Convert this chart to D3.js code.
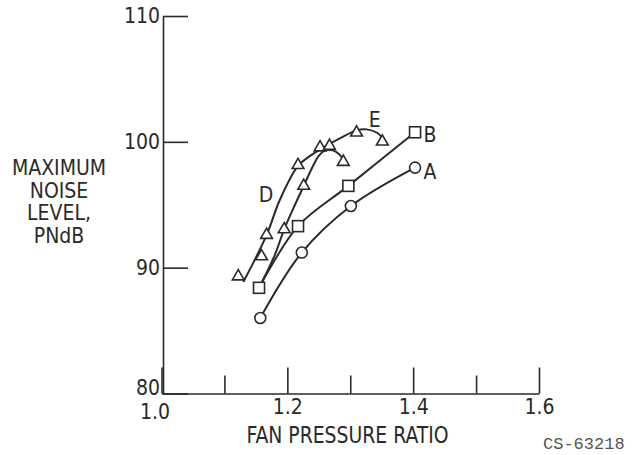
<!DOCTYPE html>
<html>
<head>
<meta charset="utf-8">
<script src="https://cdn.jsdelivr.net/npm/d3@7"></script>
<style>
  body { margin: 0; background: #fff; }
  svg text { fill: #2a2a2a; }
</style>
</head>
<body>
<div id="chart"></div>
<script>
// measured points (fan pressure ratio, PNdB)
const circlesA = [[1.157, 86.0], [1.223, 91.2], [1.301, 94.9], [1.403, 97.95]];
const squaresB = [[1.155, 88.4], [1.217, 93.3], [1.297, 96.5], [1.403, 100.76]];
const trianglesDE = [
    [1.122, 89.3], [1.159, 90.9], [1.167, 92.6], [1.195, 93.05],
    [1.217, 98.15], [1.226, 96.5], [1.252, 99.55], [1.267, 99.67],
    [1.289, 98.4], [1.310, 100.73], [1.351, 100.02]
];

// faired curves
const curveD = [
    [1.130, 88.86], [1.167, 92.58], [1.188, 95.38],
    [1.217, 98.08], [1.236, 98.88], [1.255, 99.48], [1.284, 100.29],
    [1.310, 100.91], [1.326, 100.99], [1.344, 100.68], [1.351, 100.27]
];
const curveE = [
    [1.160, 88.9], [1.180, 91.0], [1.195, 93.05], [1.212, 94.98],
    [1.226, 96.49], [1.240, 98.0], [1.250, 98.88], [1.260, 99.32],
    [1.272, 99.32], [1.282, 99.04], [1.289, 98.6]
];

const xMajor = [1.0, 1.2, 1.4, 1.6];
const xMinor = [1.1, 1.3, 1.5];
const yTicks = [80, 90, 100, 110];

const curveLabels = [
    { text: 'A', x: 1.4266, y: 97.65 },
    { text: 'B', x: 1.4266, y: 100.55 },
    { text: 'D', x: 1.166, y: 95.78 },
    { text: 'E', x: 1.339, y: 101.74 }
];

const yTitle = ['MAXIMUM', 'NOISE', 'LEVEL,', 'PNdB'];

const svgWidth = 636;
const svgHeight = 455;
const ink = '#2a2a2a';
const font = '"DejaVu Sans Condensed", "DejaVu Sans", sans-serif';

const svg = d3.select('#chart')
    .append('svg')
    .attr('width', svgWidth)
    .attr('height', svgHeight)
    .style('font-family', font);

const xScale = d3.scaleLinear()
    .domain([1.0, 1.6])
    .range([161.5, 539]);

const yScale = d3.scaleLinear()
    .domain([80, 110])
    .range([393.5, 16]);

// x axis, major ticks with labels
const xAxisGroup = svg.append('g')
    .attr('transform', `translate(0, ${yScale(80)})`)
    .call(d3.axisBottom(xScale)
        .tickValues(xMajor)
        .tickSizeInner(-26)
        .tickSizeOuter(0)
        .tickPadding(6)
        .tickFormat(d3.format('.1f')));

// minor ticks
svg.append('g')
    .attr('transform', `translate(0, ${yScale(80)})`)
    .call(d3.axisBottom(xScale)
        .tickValues(xMinor)
        .tickSizeInner(-18)
        .tickSizeOuter(0)
        .tickFormat(''))
    .select('.domain').remove();

const yAxisGroup = svg.append('g')
    .attr('transform', `translate(${xScale(1.0) + 1.5}, 0)`)
    .call(d3.axisLeft(yScale)
        .tickValues(yTicks)
        .tickSizeInner(-25)
        .tickSizeOuter(0)
        .tickPadding(3));

svg.selectAll('.domain, .tick line')
    .attr('stroke', ink)
    .attr('stroke-width', 1.6);

svg.selectAll('.tick text')
    .attr('fill', ink)
    .style('font-family', font)
    .style('font-size', '21px');

// corner labels sit stacked, as in the original
xAxisGroup.select('.tick text').attr('dx', -7).attr('dy', '0.95em');
yAxisGroup.select('.tick text').attr('dy', '0.05em');

// curves
const line = d3.line()
    .x(d => xScale(d[0]))
    .y(d => yScale(d[1]))
    .curve(d3.curveCatmullRom.alpha(0.5));

const plot = svg.append('g')
    .attr('fill', 'none')
    .attr('stroke', ink)
    .attr('stroke-width', 2);

[circlesA, squaresB, curveD, curveE].forEach(pts => {
    plot.append('path').attr('d', line(pts));
});

// markers
const marks = svg.append('g')
    .attr('fill', '#fff')
    .attr('stroke', ink)
    .attr('stroke-width', 1.6);

marks.selectAll('circle')
    .data(circlesA)
    .join('circle')
    .attr('cx', d => xScale(d[0]))
    .attr('cy', d => yScale(d[1]))
    .attr('r', 5.5);

marks.selectAll('rect')
    .data(squaresB)
    .join('rect')
    .attr('x', d => xScale(d[0]) - 5.5)
    .attr('y', d => yScale(d[1]) - 5.5)
    .attr('width', 11)
    .attr('height', 11);

const tri = d3.symbol().type(d3.symbolTriangle).size(60);
marks.selectAll('path.tri')
    .data(trianglesDE)
    .join('path')
    .attr('class', 'tri')
    .attr('transform', d => `translate(${xScale(d[0])}, ${yScale(d[1])})`)
    .attr('d', tri);

// curve letters
svg.append('g')
    .selectAll('text')
    .data(curveLabels)
    .join('text')
    .attr('x', d => xScale(d.x))
    .attr('y', d => yScale(d.y))
    .attr('dy', '0.36em')
    .attr('text-anchor', 'middle')
    .style('font-size', '21px')
    .text(d => d.text);

// titles
svg.append('text')
    .attr('x', 347.5)
    .attr('y', 443)
    .attr('text-anchor', 'middle')
    .attr('textLength', 202)
    .attr('lengthAdjust', 'spacingAndGlyphs')
    .style('font-size', '23px')
    .text('FAN PRESSURE RATIO');

svg.append('g')
    .selectAll('text')
    .data(yTitle)
    .join('text')
    .attr('x', 59)
    .attr('y', (d, i) => 175 + i * 22.7)
    .attr('text-anchor', 'middle')
    .style('font-size', '21px')
    .text(d => d);

svg.append('text')
    .attr('x', 543)
    .attr('y', 449)
    .style('font-family', '"Liberation Mono", "DejaVu Sans Mono", monospace')
    .style('font-size', '17px')
    .style('fill', '#555')
    .text('CS-63218');
</script>
</body>
</html>
